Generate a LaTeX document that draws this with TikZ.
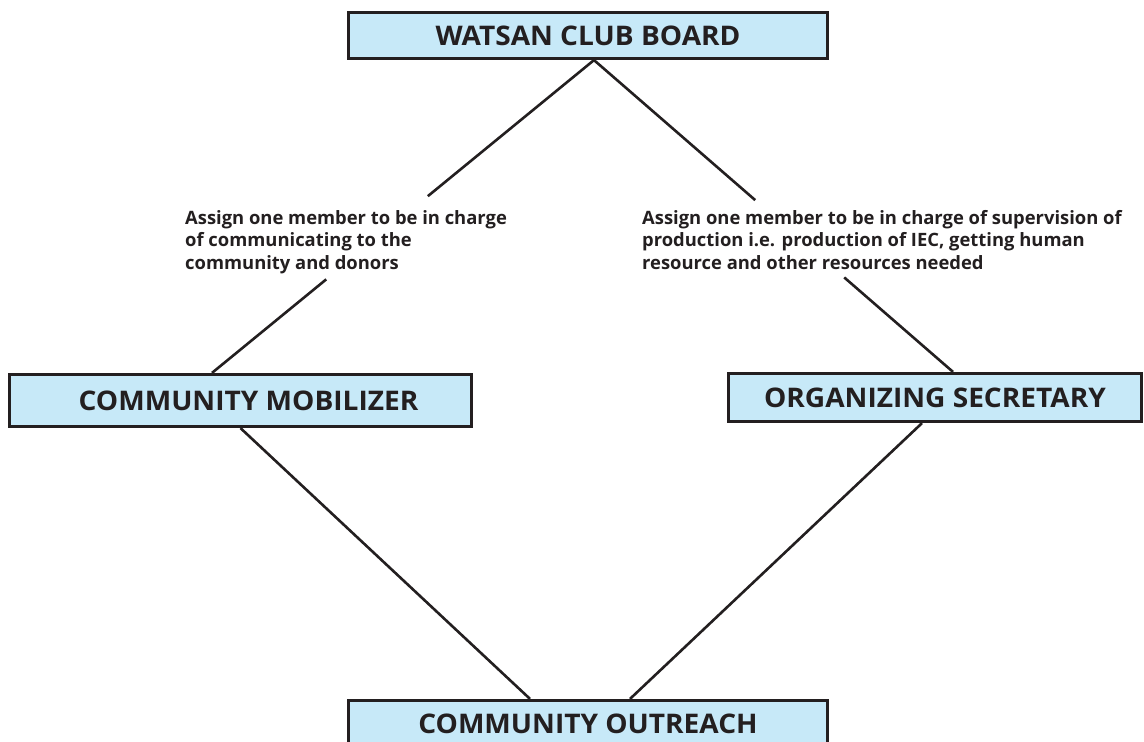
\documentclass[tikz,border=0pt]{standalone}
\usepackage{fontspec}
\setmainfont{Open Sans}
\newfontfamily\titlefont[FakeStretch=1.04]{Open Sans}
\usetikzlibrary{calc}
\definecolor{boxblue}{RGB}{199,233,248}
\definecolor{ink}{RGB}{35,31,32}
\begin{document}
\begin{tikzpicture}[x=1pt,y=-1pt,
  titlebox/.style={draw=ink, line width=3.2pt, fill=boxblue, inner sep=0pt,
    font=\titlefont\bfseries\fontsize{27}{32}\selectfont, text=ink},
  note/.style={align=left, inner sep=0pt, text=ink,
    font=\bfseries\fontsize{18.4}{22.5}\selectfont},
  link/.style={line width=2.6pt, draw=ink}]
\clip (0,0) rectangle (1144,742);
\useasboundingbox (0,0) rectangle (1144,742);

\node[titlebox, minimum width=479pt, minimum height=46pt] (board) at (588,35.5) {WATSAN CLUB BOARD};
\node[titlebox, minimum width=462pt, minimum height=52pt] (mob) at (240.5,400.5) {\raisebox{-2pt}{\hspace*{16pt}COMMUNITY MOBILIZER}};
\node[titlebox, minimum width=413pt, minimum height=48pt] (sec) at (935,397.5) {ORGANIZING SECRETARY};
\node[titlebox, minimum width=479pt, minimum height=47pt] (out) at (588,724) {COMMUNITY OUTREACH};

\node[note, anchor=base west] (noteL) at (185,269) {Assign one member to be in charge\\of communicating to the\\community and donors};
\node[note, anchor=base west] (noteR) at (642,269) {Assign one member to be in charge of supervision of\\production i.e. production of IEC, getting human\\resource and other resources needed};

\coordinate (bL) at ($(board.south)+(6,0)$);
\coordinate (mT) at ($(mob.north)+(-28.5,0)$);
\coordinate (sT) at ($(sec.north)+(18,0)$);
\draw[link] (bL) -- ($(bL)!0.435!(mT)$);
\draw[link] ($(bL)!0.701!(mT)$) -- (mT);
\draw[link] (bL) -- ($(bL)!0.449!(sT)$);
\draw[link] ($(bL)!0.697!(sT)$) -- (sT);

\draw[link] (mob.south) -- ($(out.north)+(-58,0)$);
\draw[link] ($(sec.south)+(-13,0)$) -- ($(out.north)+(42,0)$);
\end{tikzpicture}
\end{document}
